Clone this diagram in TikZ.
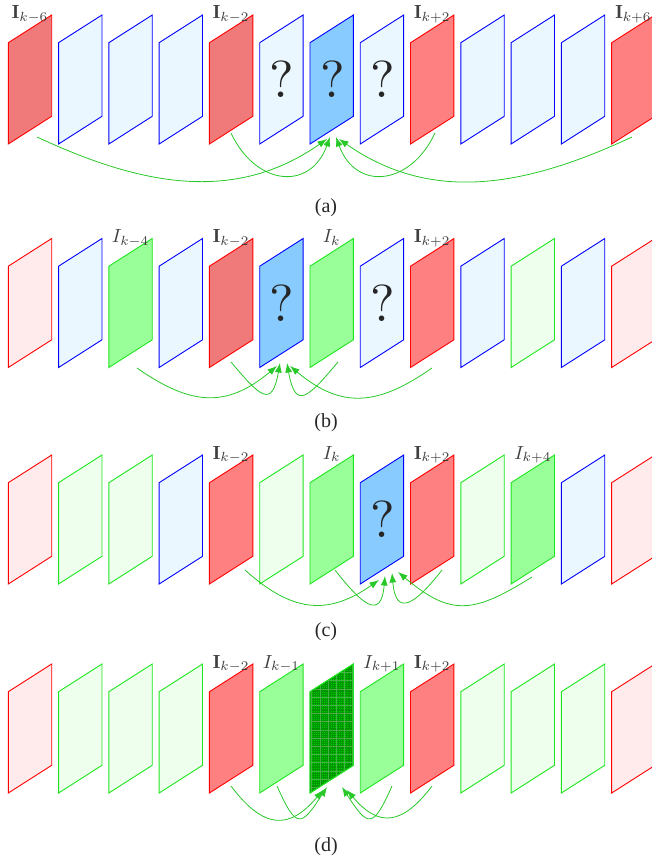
\RequirePackage{fix-cm}
\documentclass[tikz,border=0pt]{standalone}
\usepackage{fontspec}
\newfontfamily\capfont{Liberation Serif}
\usetikzlibrary{arrows.meta}

\definecolor{lbfill}{RGB}{235,247,255}
\definecolor{tgfill}{RGB}{136,204,255}
\definecolor{redfill}{RGB}{255,128,128}
\definecolor{redfilldark}{RGB}{240,122,122}
\definecolor{prfill}{RGB}{255,235,235}
\definecolor{pgfill}{RGB}{238,255,238}
\definecolor{gfill}{RGB}{153,255,153}
\definecolor{meshfill}{RGB}{0,200,0}
\definecolor{meshfine}{RGB}{0,150,0}
\definecolor{meshcoarse}{RGB}{70,175,70}
\definecolor{rline}{RGB}{255,0,0}
\definecolor{bline}{RGB}{0,0,255}
\definecolor{gline}{RGB}{30,230,30}
\definecolor{arrowgreen}{RGB}{40,200,40}

% one slanted frame: #1 = top of the row (px, downwards), #2 = slot, #3 = style
\newcommand\sheet[3]{%
  \pgfmathsetmacro\sx{8.3+50.28*#2}%
  \path[#3] (\sx,-#1-27.7) -- (\sx+43.4,-#1) -- (\sx+43.4,-#1-101.3)
            -- (\sx,-#1-129) -- cycle;}
% a whole row of frames
\newcommand\sheetrow[2]{%
  \foreach \st [count=\i from 0] in {#2} {\edef\tmp{\noexpand\sheet{#1}{\i}{\st}}\tmp}}
% label above a frame: #1 name, #2 row top, #3 slot, #4 text
\newcommand\flabel[4]{%
  \pgfmathsetmacro\sx{8.3+50.28*#3}%
  \node[lbl] (#1) at (\sx+21.7,-#2-4) {#4};}
% question mark inside a frame: #1 name, #2 row top, #3 slot
\newcommand\qframe[3]{%
  \pgfmathsetmacro\sx{8.3+50.28*#3}%
  \node[qmark] (#1) at (\sx+22.5,-#2-64.5) {?};}

\begin{document}
\begin{tikzpicture}[x=1pt,y=1pt,
  sheetbase/.style={line width=0.9pt, line join=miter},
  blank/.style={sheetbase, fill=lbfill, draw=bline},
  target/.style={sheetbase, fill=tgfill, draw=bline},
  key/.style={sheetbase, fill=redfill, draw=rline},
  keydark/.style={sheetbase, fill=redfilldark, draw=rline},
  faintred/.style={sheetbase, fill=prfill, draw=rline},
  faintgreen/.style={sheetbase, fill=pgfill, draw=gline},
  known/.style={sheetbase, fill=gfill, draw=gline},
  meshed/.style={sheetbase, fill=meshfill, draw=gline},
  lbl/.style={anchor=base, text=black!75, font=\fontsize{10}{12}\selectfont, scale=1.9, inner sep=0pt},
  qmark/.style={text=black!85, font=\fontsize{10}{12}\selectfont, scale=5.2, inner sep=0pt},
  subcaption/.style={text=black!85, font=\capfont\fontsize{20}{23}\selectfont, inner sep=0pt},
  conn/.style={draw=arrowgreen, line width=0.8pt, -{Latex[length=9.5pt,width=7pt]}},
]
\useasboundingbox (0,0) rectangle (652,-859);

% ---------------- (a) ----------------
\sheetrow{15}{keydark,blank,blank,blank,keydark,blank,target,blank,key,blank,blank,blank,key}
\qframe{qa5}{15}{5}\qframe{qa6}{15}{6}\qframe{qa7}{15}{7}
\flabel{la0}{15}{0}{$\mathbf{I}_{k-6}$}
\flabel{la4}{15}{4}{$\mathbf{I}_{k-2}$}
\flabel{la8}{15}{8}{$\mathbf{I}_{k+2}$}
\flabel{la12}{15}{12}{$\mathbf{I}_{k+6}$}
\coordinate (a-s0) at (37,-137);   \coordinate (a-s4) at (231,-133);
\coordinate (a-s8) at (435,-133);  \coordinate (a-s12) at (632,-137);
\coordinate (a-t1) at (327,-139);  \coordinate (a-t2) at (330,-137);
\coordinate (a-t3) at (336,-137);  \coordinate (a-t4) at (339,-139);
\draw[conn] (a-s0)  to[out=-25,in=-145] (a-t1);
\draw[conn] (a-s4)  to[out=-65,in=-110,looseness=1.5] (a-t2);
\draw[conn] (a-s8)  to[out=-115,in=-70,looseness=1.5] (a-t3);
\draw[conn] (a-s12) to[out=-155,in=-35] (a-t4);
\node[subcaption] (capa) at (326,-208) {(a)};

% ---------------- (b) ----------------
\sheetrow{238.5}{faintred,blank,known,blank,keydark,target,known,blank,key,blank,faintgreen,blank,faintred}
\qframe{qb5}{238.5}{5}\qframe{qb7}{238.5}{7}
\flabel{lb2}{238.5}{2}{$I_{k-4}$}
\flabel{lb4}{238.5}{4}{$\mathbf{I}_{k-2}$}
\flabel{lb6}{238.5}{6}{$I_{k}$}
\flabel{lb8}{238.5}{8}{$\mathbf{I}_{k+2}$}
\coordinate (b-s2) at (137,-368);  \coordinate (b-s4) at (231,-362);
\coordinate (b-s6) at (338,-362);  \coordinate (b-s8) at (432,-368);
\coordinate (b-t1) at (277,-366);  \coordinate (b-t2) at (280,-363);
\coordinate (b-t3) at (287,-363);  \coordinate (b-t4) at (290,-366);
\draw[conn] (b-s2) to[out=-35,in=-140,looseness=1.2] (b-t1);
\draw[conn] (b-s4) to[out=-50,in=-100,looseness=2.4] (b-t2);
\draw[conn] (b-s6) to[out=-130,in=-80,looseness=2.4] (b-t3);
\draw[conn] (b-s8) to[out=-145,in=-40,looseness=1.2] (b-t4);
\node[subcaption] (capb) at (326,-423) {(b)};

% ---------------- (c) ----------------
\sheetrow{455}{faintred,faintgreen,faintgreen,blank,key,faintgreen,known,target,key,faintgreen,known,blank,faintred}
\qframe{qc7}{455}{7}
\flabel{lc4}{455}{4}{$\mathbf{I}_{k-2}$}
\flabel{lc6}{455}{6}{$I_{k}$}
\flabel{lc8}{455}{8}{$\mathbf{I}_{k+2}$}
\flabel{lc10}{455}{10}{$I_{k+4}$}
\coordinate (c-s4) at (245,-570);  \coordinate (c-s6) at (335,-570);
\coordinate (c-s8) at (442,-570);  \coordinate (c-s10) at (532,-577);
\coordinate (c-t1) at (379,-580);  \coordinate (c-t2) at (385,-576);
\coordinate (c-t3) at (392,-573);  \coordinate (c-t4) at (398,-572);
\draw[conn] (c-s4)  to[out=-42,in=-145,looseness=1.2] (c-t1);
\draw[conn] (c-s6)  to[out=-52,in=-95,looseness=2.27] (c-t2);
\draw[conn] (c-s8)  to[out=-128,in=-85,looseness=2.27] (c-t3);
\draw[conn] (c-s10) to[out=-148,in=-40,looseness=1.32] (c-t4);
\node[subcaption] (capc) at (326,-632) {(c)};

% ---------------- (d) ----------------
\sheetrow{664}{faintred,faintgreen,faintgreen,faintgreen,key,known,meshed,known,key,faintgreen,faintgreen,faintgreen,faintred}
% fine mesh on the reconstructed frame
\pgfmathsetmacro\mx{8.3+50.28*6}
\begin{scope}
  \clip (\mx,-691.7) -- (\mx+43.4,-664) -- (\mx+43.4,-765.3) -- (\mx,-793) -- cycle;
  \draw[meshfine, line width=0.4pt] (\mx-2,-796) grid[xstep=1.9,ystep=1.9] (\mx+46,-660);
  \draw[meshcoarse, line width=0.6pt] (\mx-2,-796) grid[xstep=8.2,ystep=8.2] (\mx+46,-660);
\end{scope}
\sheet{664}{6}{draw=gline, line width=0.9pt}
\flabel{ld4}{664}{4}{$\mathbf{I}_{k-2}$}
\flabel{ld5}{664}{5}{$I_{k-1}$}
\flabel{ld7}{664}{7}{$I_{k+1}$}
\flabel{ld8}{664}{8}{$\mathbf{I}_{k+2}$}
\coordinate (d-s4) at (231,-786);  \coordinate (d-s5) at (277,-786);
\coordinate (d-s7) at (392,-786);  \coordinate (d-s8) at (432,-786);
\coordinate (d-t1) at (323,-790);  \coordinate (d-t2) at (327,-787);
\coordinate (d-t3) at (342,-787);  \coordinate (d-t4) at (347,-790);
\draw[conn] (d-s4) to[out=-53,in=-130,looseness=1.48] (d-t1);
\draw[conn] (d-s5) to[out=-66,in=-123,looseness=2.44] (d-t2);
\draw[conn] (d-s7) to[out=-114,in=-57,looseness=2.44] (d-t3);
\draw[conn] (d-s8) to[out=-127,in=-50,looseness=1.48] (d-t4);
\node[subcaption] (capd) at (326,-847) {(d)};
\end{tikzpicture}
\end{document}
